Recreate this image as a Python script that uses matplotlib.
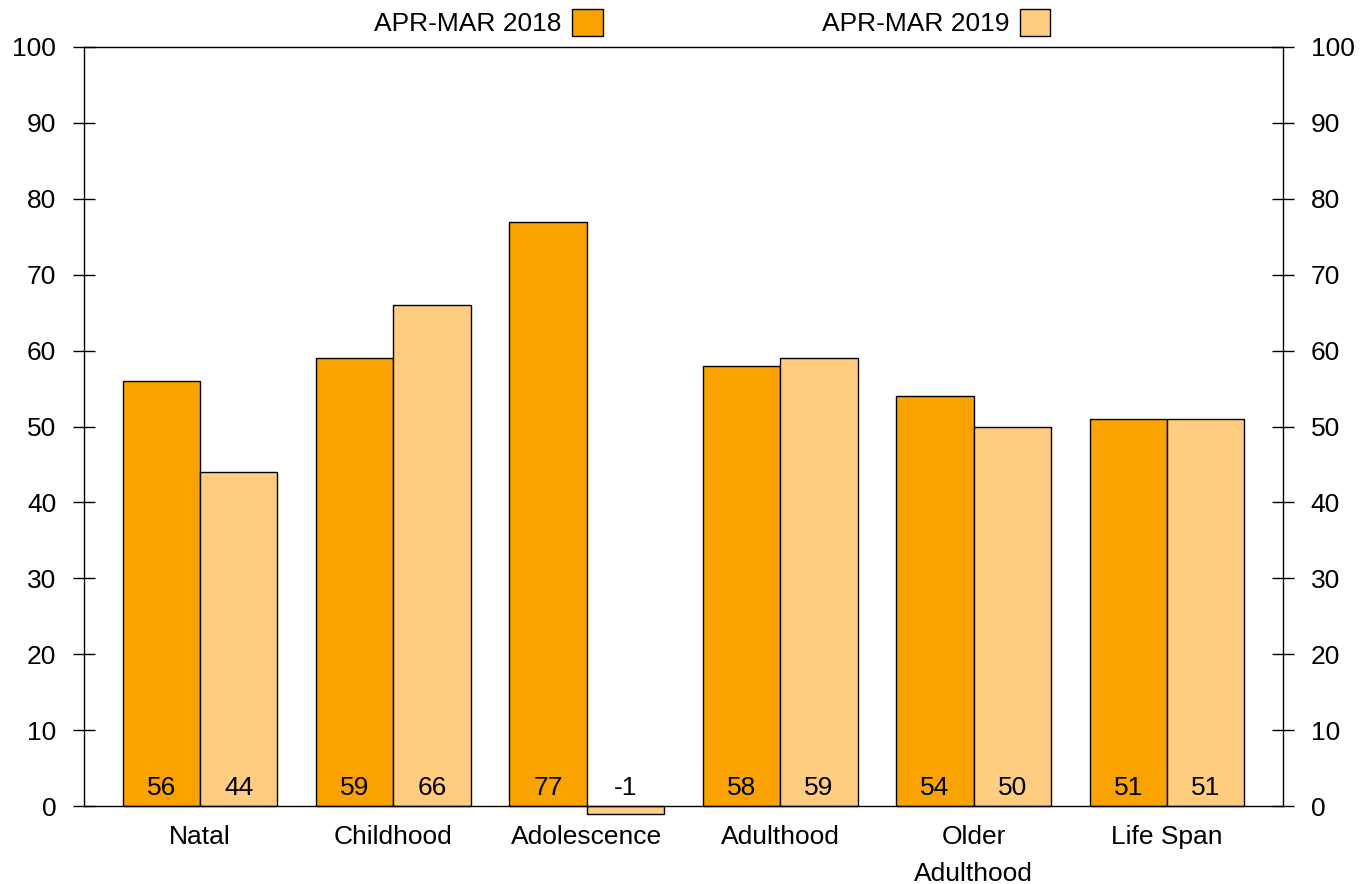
import numpy as np
import matplotlib.pyplot as plt

# data
categories = ['Natal', 'Childhood', 'Adolescence', 'Adulthood', 'Older\nAdulthood', 'Life Span']
apr_mar_2018 = [56, 59, 77, 58, 54, 51]
apr_mar_2019 = [44, 66, -1, 59, 50, 51]
series_names = ['APR-MAR 2018', 'APR-MAR 2019']

plt.rcParams['font.family'] = ['Liberation Sans', 'DejaVu Sans']
plt.rcParams['font.size'] = 19

fig = plt.figure(figsize=(13.7, 8.84), dpi=100)
ax = fig.add_axes([84 / 1370, 1 - 806 / 884, (1283 - 84) / 1370, (806 - 47) / 884])

x = np.arange(len(categories))
w = 0.4
b1 = ax.bar(x - w / 2, apr_mar_2018, w, color='#faa200', edgecolor='black', linewidth=1,
            label=series_names[0], clip_on=False, zorder=2)
b2 = ax.bar(x + w / 2, apr_mar_2019, w, color='#ffcd80', edgecolor='black', linewidth=1,
            label=series_names[1], clip_on=False, zorder=2)

# value labels near the bottom of each bar
for xi, v in zip(x - w / 2, apr_mar_2018):
    ax.text(xi, 2.4, str(v), ha='center', va='center', zorder=3)
for xi, v in zip(x + w / 2, apr_mar_2019):
    ax.text(xi, 2.4, str(v), ha='center', va='center', zorder=3)

ax.set_xlim(-0.6, 5.6)
ax.set_ylim(0, 100)
ax.set_yticks(range(0, 101, 10))
ax.set_xticks(x)
ax.set_xticklabels(categories, linespacing=1.65, va='top')
ax.tick_params(axis='x', length=0, pad=14)
ax.tick_params(axis='y', direction='inout', length=16, width=1, right=True,
               labelright=True, pad=12)
for s in ax.spines.values():
    s.set_linewidth(1)

ax.legend(ncol=2, markerfirst=False, frameon=False, loc='lower center',
          bbox_to_anchor=(0.524, 1.0), borderaxespad=0.0, columnspacing=8.3,
          handlelength=1.15, handleheight=1.2, handletextpad=0.4)

plt.savefig('out.png', dpi=100)
